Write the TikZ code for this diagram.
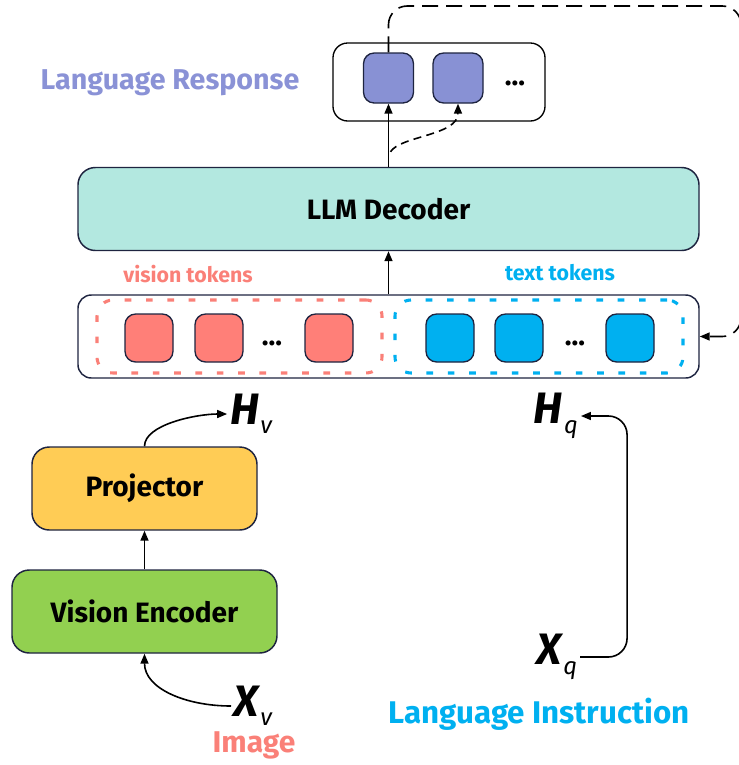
\documentclass[tikz,border=0pt]{standalone}
\usepackage{amsmath}
\usepackage{fontspec}
\setmainfont{Fira Sans}
\usepackage{tikz}
\usetikzlibrary{arrows.meta}
\usetikzlibrary{calc}
\usetikzlibrary{positioning}
\newcommand{\symlbl}[2]{{\fontsize{33}{33}\selectfont\bfseries\itshape #1}\kern1pt{\fontsize{18}{18}\selectfont\itshape\raisebox{-7pt}{#2}}}

\begin{document}
\begin{tikzpicture}[x=0.75pt,y=0.75pt,yscale=-1,xscale=1,
  block/.style={draw={rgb, 255:red, 30; green, 36; blue, 64 }, line width=1.1pt, rounded corners=13pt, minimum height=62.25pt, font=\fontsize{21}{24}\selectfont\bfseries},
  tok/.style={draw={rgb, 255:red, 30; green, 36; blue, 64 }, line width=1pt, rounded corners=8pt, minimum size=36pt, inner sep=0pt},
  tokregion/.style={line width=2.3pt, dash pattern=on 5pt off 11pt, rounded corners=12pt, minimum height=54.75pt, inner sep=0pt},
  lbl/.style={inner sep=0.75pt, font=\fontsize{21.5}{24}\selectfont\bfseries},
  dots/.style={inner sep=0pt, anchor=base, font=\fontsize{21}{21}\selectfont\bfseries},
  arr/.style={line width=1.2pt, -{Triangle[length=7.5pt,width=6pt]}},
  fb/.style={arr, dash pattern=on 12pt off 6pt, rounded corners=14pt}]
\useasboundingbox (0,0) rectangle (739,765);

%Shape: Response box
\node [draw={rgb, 255:red, 0; green, 0; blue, 0 }, line width=1pt, rounded corners=11pt, minimum width=159pt, minimum height=58.5pt] (resp) at (439,82) {};
\node [tok, minimum size=37.5pt, fill={rgb, 255:red, 136; green, 145; blue, 212 }] (rtok1) at (388.5,78) {};
\node [tok, minimum size=37.5pt, fill={rgb, 255:red, 136; green, 145; blue, 212 }] (rtok2) at (458,78) {};
\node [dots] (rdots) at (515,85) {...};

%Shape: LLM decoder
\node [block, minimum width=465.75pt, fill={rgb, 255:red, 179; green, 232; blue, 224 }] (dec) at (388.5,209) {LLM Decoder};

%Shape: Token bar
\node [draw={rgb, 255:red, 30; green, 36; blue, 64 }, line width=1.1pt, rounded corners=10pt, minimum width=465.75pt, minimum height=62.25pt, fill=white] (tokbar) at (388.5,336.5) {};
\node [tokregion, draw={rgb, 255:red, 250; green, 128; blue, 120 }, minimum width=213.75pt] (visreg) at (239.5,336.5) {};
\node [tokregion, draw={rgb, 255:red, 0; green, 176; blue, 240 }, minimum width=216pt] (txtreg) at (539,336.5) {};
\node [tok, fill={rgb, 255:red, 255; green, 127; blue, 120 }] (vtok1) at (149,338) {};
\node [tok, fill={rgb, 255:red, 255; green, 127; blue, 120 }] (vtok2) at (219,338) {};
\node [dots] (vdots) at (272,345) {...};
\node [tok, fill={rgb, 255:red, 255; green, 127; blue, 120 }] (vtok3) at (329,338) {};
\node [tok, fill={rgb, 255:red, 0; green, 176; blue, 240 }] (ttok1) at (450,338) {};
\node [tok, fill={rgb, 255:red, 0; green, 176; blue, 240 }] (ttok2) at (519,338) {};
\node [dots] (tdots) at (575,345) {...};
\node [tok, fill={rgb, 255:red, 0; green, 176; blue, 240 }] (ttok3) at (630,338) {};

%Shape: Projector and encoder
\node [block, minimum width=168.75pt, fill={rgb, 255:red, 255; green, 204; blue, 85 }] (proj) at (144.5,488.5) {Projector};
\node [block, minimum width=198.75pt, fill={rgb, 255:red, 146; green, 208; blue, 80 }] (enc) at (144.5,611.5) {Vision Encoder};

% Text Node
\node [lbl, text={rgb, 255:red, 138; green, 146; blue, 214 }] (resplbl) at (170,83) {Language Response};
% Text Node
\node [lbl, text={rgb, 255:red, 250; green, 128; blue, 120 }, font=\fontsize{16}{20}\selectfont\bfseries] (vislbl) at (188,274) {vision tokens};
% Text Node
\node [lbl, text={rgb, 255:red, 0; green, 176; blue, 240 }, font=\fontsize{16}{20}\selectfont\bfseries] (txtlbl) at (560,273) {text tokens};
% Text Node
\node [lbl, text={rgb, 255:red, 250; green, 128; blue, 120 }, font=\fontsize{22.5}{24}\selectfont\bfseries] (imglbl) at (254,745) {Image};
% Text Node
\node [lbl, text={rgb, 255:red, 0; green, 176; blue, 240 }, font=\fontsize{23.5}{26}\selectfont\bfseries] (inslbl) at (539,714) {Language Instruction};
% Text Node
\node [inner sep=2pt] (Hv) at (251,414) {\symlbl{H}{v}};
\node [inner sep=2pt] (Hq) at (556,416) {\symlbl{H}{q}};
\node [inner sep=2pt] (Xv) at (253,706) {\symlbl{X}{v}};
\node [inner sep=2pt] (Xq) at (557,657) {\symlbl{X}{q}};

%Straight Lines
\draw [arr] (dec.north) -- (rtok1.south);
\draw [arr, dash pattern=on 6pt off 4pt] ($(dec.north)+(2,-15)$) .. controls +(10,-16) and +(0,32) .. (rtok2.south);
\draw [fb] (rtok1.north) |- (741,6) |- (tokbar.east);
\draw [arr] (tokbar.north) -- (dec.south);
\draw [arr] (enc.north) -- (proj.south);
\draw [arr] (proj.north) .. controls +(0,-22) and +(-30,0) .. (Hv.west);
\draw [arr] (Xv.west) .. controls +(-45,0) and +(0,35) .. (enc.south);
\draw [arr, rounded corners=14pt] (Xq.east) -- ++(47,0) |- (Hq.east);

\end{tikzpicture}
\end{document}
